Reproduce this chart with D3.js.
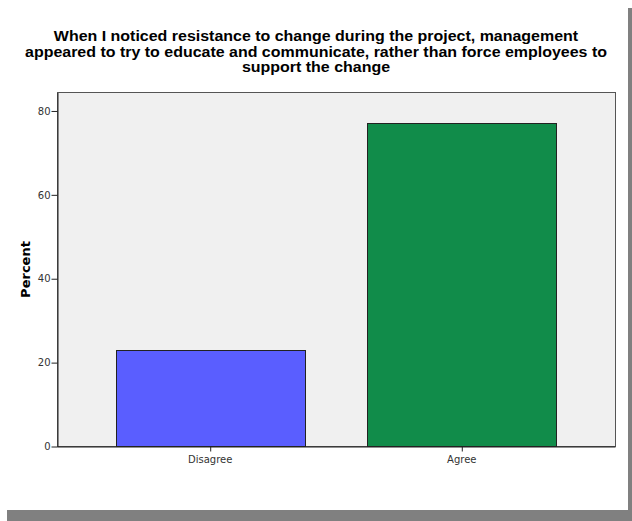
<!DOCTYPE html>
<html>
<head>
<meta charset="utf-8">
<script src="https://cdn.jsdelivr.net/npm/d3@7"></script>
<style>
  html, body { margin: 0; padding: 0; background: #ffffff; }
  svg { display: block; }
</style>
</head>
<body>
<script>
const titleLines = [
  "When I noticed resistance to change during the project, management",
  "appeared to try to educate and communicate, rather than force employees to",
  "support the change"
];
const categories = ["Disagree", "Agree"];
const percents = [22.9, 77.1];
const barColors = ["#5a5eff", "#118c4a"];
const yTicks = [0, 20, 40, 60, 80];
const yLabel = "Percent";

const W = 632, H = 521;
const svg = d3.select("body").append("svg").attr("width", W).attr("height", H);

// card shadow and card
svg.append("rect").attr("x", 7).attr("y", 8).attr("width", W - 7).attr("height", H - 8).attr("fill", "#808080");
svg.append("rect").attr("x", 0).attr("y", 0).attr("width", 628).attr("height", 510).attr("fill", "#ffffff");

const plot = { left: 57.5, top: 92.5, right: 615.5, bottom: 446.5 };

const x = d3.scaleBand().domain(categories).range([plot.left - 0.5, plot.right - 0.5])
  .paddingInner(0.25).paddingOuter(0.234);
const y = d3.scaleLinear().domain([0, 84.4]).range([plot.bottom, plot.top]);

// plot background
svg.append("rect")
  .attr("x", plot.left).attr("y", plot.top)
  .attr("width", plot.right - plot.left).attr("height", plot.bottom - plot.top)
  .attr("fill", "#f0f0f0").attr("stroke", "#555").attr("stroke-width", 1);

// bars
svg.append("g").selectAll("rect").data(categories).join("rect")
  .attr("x", d => Math.round(x(d)) + 0.5)
  .attr("y", (d, i) => Math.round(y(percents[i])) + 0.5)
  .attr("width", d => Math.round(x.bandwidth()))
  .attr("height", (d, i) => plot.bottom - (Math.round(y(percents[i])) + 0.5))
  .attr("fill", (d, i) => barColors[i])
  .attr("stroke", "#222").attr("stroke-width", 1);

// axes
const yAxis = svg.append("g").attr("transform", `translate(${plot.left},0)`)
  .call(d3.axisLeft(y).tickValues(yTicks).tickSize(6).tickSizeOuter(0).tickPadding(1));
const xAxis = svg.append("g").attr("transform", `translate(0,${plot.bottom})`)
  .call(d3.axisBottom(x).tickSize(5).tickSizeOuter(0).tickPadding(4));

[yAxis, xAxis].forEach(g => {
  g.selectAll("text").attr("font-family", "DejaVu Sans").attr("font-size", 10).attr("fill", "#333");
  g.selectAll(".tick line").attr("stroke", "#222");
  g.select(".domain").attr("stroke", "#222");
});
xAxis.selectAll(".tick line").attr("transform", "translate(0.5,0)");

// y label
svg.append("text")
  .attr("transform", `translate(30,${(plot.top + plot.bottom) / 2}) rotate(-90)`)
  .attr("text-anchor", "middle")
  .attr("font-family", "DejaVu Sans").attr("font-weight", "bold").attr("font-size", 13)
  .attr("fill", "#000").text(yLabel);

// title
const title = svg.append("g").attr("font-family", "Liberation Sans").attr("font-weight", "bold")
  .attr("font-size", 15).attr("fill", "#000").attr("text-anchor", "middle");
const tNodes = titleLines.map((t, i) =>
  title.append("text").attr("x", 316).attr("y", 41 + i * 15.5).text(t));
const widest = tNodes[1].node().getComputedTextLength();
const stretch = 582 / widest;
tNodes.forEach(n => {
  const w = n.node().getComputedTextLength();
  n.attr("textLength", w * stretch).attr("lengthAdjust", "spacingAndGlyphs");
});
</script>
</body>
</html>
